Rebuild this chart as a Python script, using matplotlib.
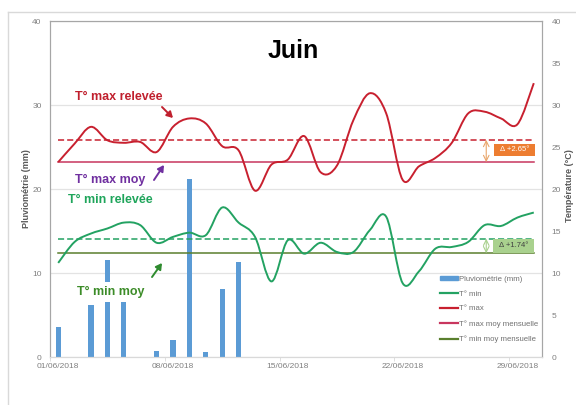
"""Juin: pluviométrie + températures min/max relevées."""
import matplotlib
matplotlib.use("Agg")
import matplotlib.pyplot as plt
import numpy as np
from matplotlib.lines import Line2D
from matplotlib.patches import Patch, PathPatch, Rectangle
from matplotlib.path import Path

plt.rcParams['font.family'] = ['Liberation Sans', 'DejaVu Sans']

DAYS = list(range(1, 31))
RAIN = [3.6, 0, 6.2, 11.5, 6.5, 0, 0.75, 2.0, 21.2, 0.6,
        8.1, 11.3, 0, 0, 0, 0, 0, 0, 0, 0,
        0, 0, 0, 0, 0, 0, 0, 0, 0, 0]
T_MAX = [23.2, 25.4, 27.4, 25.8, 25.5, 25.6, 24.4, 27.4, 28.4, 27.8,
         25.1, 24.6, 19.8, 22.9, 23.5, 26.3, 22.0, 22.8, 28.2, 31.4,
         29.0, 21.1, 22.7, 23.7, 25.5, 29.0, 29.2, 28.4, 27.7, 32.6]
T_MIN = [11.2, 13.7, 14.7, 15.3, 16.0, 15.7, 13.6, 14.3, 14.8, 14.5,
         17.8, 16.0, 14.3, 9.0, 13.9, 12.3, 13.6, 12.5, 12.5, 15.1,
         16.7, 8.8, 10.2, 12.9, 13.1, 13.7, 15.7, 15.6, 16.6, 17.2]
T_MAX_MOY = 23.2
T_MIN_MOY = 12.35
DELTA_MAX = 2.65
DELTA_MIN = 1.74
TICK_DAYS = [1, 8, 15, 22, 29]
TICK_LABELS = ["01/06/2018", "08/06/2018", "15/06/2018", "22/06/2018", "29/06/2018"]

C_RAIN = "#5B9BD5"
C_MAX = "#C8202F"
C_MAX_MOY = "#C8365E"
C_MIN = "#23A262"
C_MIN_MOY = "#5A7F2E"
GREY = "#808080"


def smooth_path(x, y):
    # excel-like smoothed line: catmull-rom segments as cubic beziers
    pts = np.column_stack([x, y]).astype(float)
    n = len(pts)
    verts = [pts[0]]
    codes = [Path.MOVETO]
    for i in range(n - 1):
        p0 = pts[max(i - 1, 0)]
        p1 = pts[i]
        p2 = pts[i + 1]
        p3 = pts[min(i + 2, n - 1)]
        verts += [p1 + (p2 - p0) / 6, p2 - (p3 - p1) / 6, p2]
        codes += [Path.CURVE4] * 3
    return Path(verts, codes)


def main():
    fig = plt.figure(figsize=(5.76, 4.05), dpi=100)
    ax = fig.add_axes([50 / 576, 1 - 357 / 405, 492 / 576, 336 / 405])
    ax2 = ax.twinx()

    # chart area border
    fig.add_artist(Line2D([8 / 576, 1], [1 - 12 / 405] * 2, color="#D9D9D9", lw=1))
    fig.add_artist(Line2D([8 / 576] * 2, [0, 1 - 12 / 405], color="#D9D9D9", lw=1))

    ax.bar(DAYS, RAIN, width=0.32, color=C_RAIN, zorder=2)
    ax.set_xlim(0.5, 30.5)
    ax.set_ylim(0, 40)
    ax2.set_ylim(0, 40)
    ax.set_yticks([0, 10, 20, 30, 40])
    ax2.set_yticks(range(0, 41, 5))
    ax.grid(axis="y", color="#E3E3E3", lw=0.9, zorder=0)
    ax.set_axisbelow(True)

    ax.set_xticks(TICK_DAYS)
    ax.set_xticklabels(TICK_LABELS)
    ax.set_xticks([d - 0.5 for d in TICK_DAYS], minor=True)
    ax.tick_params(axis="x", which="major", length=0, pad=4, labelsize=6, labelcolor=GREY)
    ax.tick_params(axis="x", which="minor", length=3, color="#D9D9D9")
    ax.tick_params(axis="y", length=0, pad=6, labelsize=6, labelcolor=GREY)
    ax2.tick_params(axis="y", length=0, pad=7, labelsize=6, labelcolor=GREY)

    for a in (ax, ax2):
        for side in ("top", "left", "right"):
            a.spines[side].set_color("#A6A6A6")
        a.spines["bottom"].set_color("#D9D9D9")

    ax.set_ylabel("Pluviométrie (mm)", fontsize=6.5, fontweight="bold", color="#595959", labelpad=1)
    ax2.set_ylabel("Température (°C)", fontsize=6.5, fontweight="bold", color="#595959",
                   rotation=90, va="center")
    ax2.yaxis.set_label_coords(1.055, 0.51)

    # temperature curves
    ax2.add_patch(PathPatch(smooth_path(DAYS, T_MAX), fill=False, ec=C_MAX, lw=1.4, zorder=4))
    ax2.add_patch(PathPatch(smooth_path(DAYS, T_MIN), fill=False, ec=C_MIN, lw=1.4, zorder=4))

    x0, x1 = DAYS[0], DAYS[-1]
    ax2.plot([x0, x1], [T_MAX_MOY] * 2, color=C_MAX_MOY, lw=1.1, zorder=3)
    ax2.plot([x0, x1], [T_MAX_MOY + DELTA_MAX] * 2, color=C_MAX, lw=1.1, ls=(0, (4, 2)), zorder=3)
    ax2.plot([x0, x1], [T_MIN_MOY] * 2, color=C_MIN_MOY, lw=1.1, zorder=3)
    ax2.plot([x0, x1], [T_MIN_MOY + DELTA_MIN] * 2, color=C_MIN, lw=1.1, ls=(0, (4, 2)), zorder=3)

    # delta markers
    ax2.annotate("", xy=(27.1, T_MAX_MOY + DELTA_MAX), xytext=(27.1, T_MAX_MOY),
                 arrowprops=dict(arrowstyle="<->", color="#E9A66B", lw=0.8, shrinkA=0, shrinkB=0))
    ax2.add_patch(Rectangle((27.6, 23.9), 2.5, 1.5, fc="#ED7D31", ec="none", zorder=5))
    ax2.text(28.85, 24.65, f"Δ +{DELTA_MAX:.2f}°", color="white", fontsize=5.5,
             ha="center", va="center", zorder=6)
    ax2.annotate("", xy=(27.1, T_MIN_MOY + DELTA_MIN), xytext=(27.1, T_MIN_MOY),
                 arrowprops=dict(arrowstyle="<->", color="#A9D18E", lw=0.8, shrinkA=0, shrinkB=0))
    ax2.add_patch(Rectangle((27.5, T_MIN_MOY), 2.5, DELTA_MIN, fc="#A9D18E", ec="none", zorder=5))
    ax2.text(28.75, T_MIN_MOY + DELTA_MIN / 2, f"Δ +{DELTA_MIN:.2f}°", color="#404040",
             fontsize=5.5, ha="center", va="center", zorder=6)

    # labels
    ax2.text(15.36, 36.4, "Juin", fontsize=18, fontweight="bold", ha="center", va="center")
    kw = dict(fontsize=9, fontweight="bold", ha="left", va="center", zorder=6)
    ax2.text(2.03, 31.0, "T° max relevée", color="#C0202E", **kw)
    ax2.text(2.03, 21.1, "T° max moy", color="#7030A0", **kw)
    ax2.text(1.61, 18.7, "T° min relevée", color="#1FA55B", **kw)
    ax2.text(2.16, 7.75, "T° min moy", color="#3C8C28",
             bbox=dict(boxstyle="square,pad=0.3", fc="white", ec="none"), **kw)
    arr = dict(arrowstyle="-|>,head_length=0.35,head_width=0.2", lw=1.4, shrinkA=0, shrinkB=0)
    ax2.annotate("", xy=(8.0, 28.45), xytext=(7.33, 29.76), arrowprops=dict(color="#C0202E", **arr))
    ax2.annotate("", xy=(7.45, 22.86), xytext=(6.84, 21.07), arrowprops=dict(color="#7030A0", **arr))
    ax2.annotate("", xy=(7.33, 11.19), xytext=(6.72, 9.52), arrowprops=dict(color="#2E8B2E", **arr))

    handles = [Patch(color=C_RAIN),
               Line2D([], [], color=C_MIN, lw=1.6),
               Line2D([], [], color=C_MAX, lw=1.6),
               Line2D([], [], color=C_MAX_MOY, lw=1.6),
               Line2D([], [], color=C_MIN_MOY, lw=1.6)]
    labels = ["Pluviométrie (mm)", "T° min", "T° max",
              "T° max moy mensuelle", "T° min moy mensuelle"]
    leg = ax2.legend(handles, labels, loc="upper left", bbox_to_anchor=(0.787, 0.251),
                     frameon=False, fontsize=5.6, handlelength=2.3, handleheight=0.5,
                     labelspacing=1.0, handletextpad=0.15, borderaxespad=0)
    for t in leg.get_texts():
        t.set_color("#707070")

    fig.savefig("out.png", dpi=100)


if __name__ == "__main__":
    main()
